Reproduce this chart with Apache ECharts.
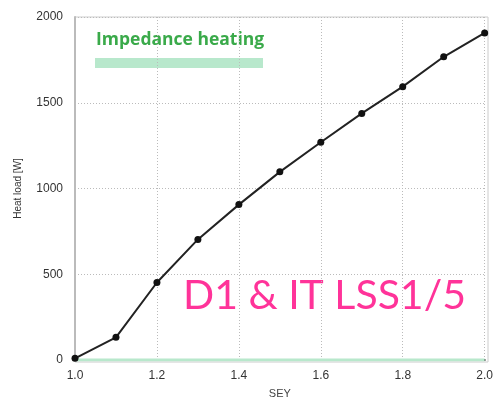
<!DOCTYPE html>
<html>
<head>
<meta charset="utf-8">
<script src="https://cdn.jsdelivr.net/npm/echarts@6/dist/echarts.min.js"></script>
<style>
  html, body { margin: 0; padding: 0; background: #fff; }
  #chart { width: 496px; height: 404px; }
</style>
</head>
<body>
<div id="chart"></div>
<script>
// SEY values and heat load [W]
const sey = [1.0, 1.1, 1.2, 1.3, 1.4, 1.5, 1.6, 1.7, 1.8, 1.9, 2.0];
const heatLoad = [10, 132, 452, 703, 906, 1097, 1270, 1438, 1594, 1768, 1907];
const impedance = [0, 0];
const impedanceX = [1.0, 2.0];

const myChart = echarts.init(document.getElementById("chart"));

const gridLine = {
  show: true,
  lineStyle: { color: "#bbb", type: [1, 2], width: 1 },
};

const option = {
  animation: false,
  grid: { left: 75, right: 8, top: 17, bottom: 42 },
  xAxis: {
    type: "value",
    min: 1.0,
    max: 2.0,
    interval: 0.2,
    name: "SEY",
    nameLocation: "middle",
    nameGap: 28,
    nameTextStyle: { color: "#444", fontSize: 11, fontFamily: "Liberation Sans" },
    axisLine: { onZero: false, lineStyle: { color: "#222", width: 2 } },
    axisTick: { show: false },
    axisLabel: {
      color: "#333",
      fontSize: 12,
      fontFamily: "Liberation Sans",
      margin: 10,
      formatter: (v) => v.toFixed(1),
    },
    splitLine: gridLine,
  },
  yAxis: {
    type: "value",
    min: 0,
    max: 2000,
    interval: 500,
    name: "Heat load [W]",
    nameLocation: "middle",
    nameGap: 52,
    nameTextStyle: { color: "#333", fontSize: 10, fontFamily: "Liberation Sans" },
    axisLine: { show: true, lineStyle: { color: "#bbb", width: 2 } },
    axisTick: { show: false },
    axisLabel: {
      color: "#333",
      fontSize: 12,
      fontFamily: "Liberation Sans",
      margin: 12,
      formatter: (v) => String(v),
    },
    splitLine: gridLine,
  },
  graphic: [
    {
      type: "rect",
      shape: { x: 75, y: 17, width: 413, height: 345 },
      style: { fill: "none", stroke: "#ccc", lineWidth: 1 },
      silent: true,
      z: -1,
    },
    {
      type: "rect",
      shape: { x: 95, y: 58, width: 168, height: 10 },
      style: { fill: "#b8e8cc" },
    },
    {
      type: "text",
      left: 96,
      top: 31,
      style: {
        text: "Impedance heating",
        fill: "#3aaa4a",
        font: "bold 17.5px 'Open Sans'",
      },
    },
    {
      type: "text",
      left: 183,
      top: 275,
      style: {
        text: "D1 & IT LSS1/5",
        fill: "#ff3399",
        font: "41px Lato",
      },
    },
  ],
  series: [
    {
      name: "Impedance heating",
      type: "line",
      data: impedanceX.map((x, i) => [x, impedance[i]]),
      symbol: "none",
      lineStyle: { color: "#b8e8cc", width: 3 },
      z: 1,
    },
    {
      name: "Heat load",
      type: "line",
      data: sey.map((x, i) => [x, heatLoad[i]]),
      symbol: "circle",
      symbolSize: 7,
      itemStyle: { color: "#111" },
      lineStyle: { color: "#222", width: 2 },
      z: 3,
    },
  ],
};

myChart.setOption(option);
</script>
</body>
</html>
